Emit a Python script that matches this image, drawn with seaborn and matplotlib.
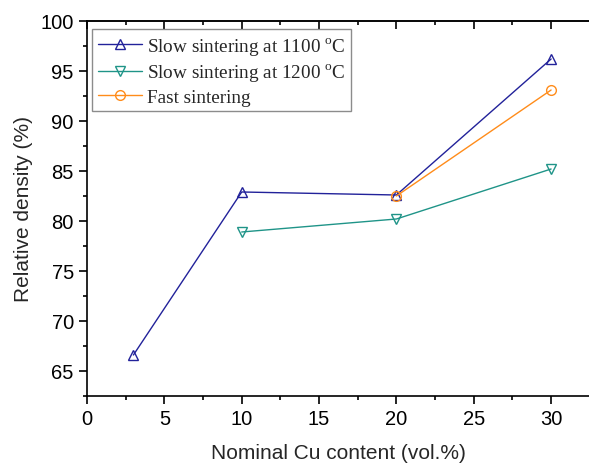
import matplotlib
matplotlib.use("Agg")
import matplotlib.pyplot as plt
from matplotlib.ticker import MultipleLocator
import seaborn as sns

# datos
cu_1100 = [3, 10, 20, 30]
dens_1100 = [66.6, 82.9, 82.6, 96.2]
cu_1200 = [10, 20, 30]
dens_1200 = [78.9, 80.2, 85.2]
cu_fast = [20, 30]
dens_fast = [82.5, 93.1]

labels = [r"Slow sintering at 1100 $^{\mathrm{o}}$C",
          r"Slow sintering at 1200 $^{\mathrm{o}}$C",
          "Fast sintering"]

sns.set_style("ticks")
plt.rcParams["font.family"] = ["Liberation Sans", "DejaVu Sans"]
plt.rcParams["mathtext.fontset"] = "custom"
plt.rcParams["mathtext.rm"] = "Liberation Serif"

fig = plt.figure(figsize=(5.89, 4.64), dpi=100)
ax = fig.add_axes([0.1477, 0.1444, 0.8523, 0.8082])

series = [
    (cu_1100, dens_1100, "#22229a", "^"),
    (cu_1200, dens_1200, "#1f9488", "v"),
    (cu_fast, dens_fast, "#ff8c1a", "o"),
]
for (x, y, c, m), lab in zip(series, labels):
    sns.lineplot(x=x, y=y, ax=ax, color=c, marker=m, markersize=7,
                 mfc="none", mec=c, mew=1.0, lw=1.0, label=lab)

ax.set_xlim(0, 32.45)
ax.set_ylim(62.5, 100)
ax.xaxis.set_major_locator(MultipleLocator(5))
ax.xaxis.set_minor_locator(MultipleLocator(2.5))
ax.set_yticks([65, 70, 75, 80, 85, 90, 95, 100])
ax.yaxis.set_minor_locator(MultipleLocator(2.5))

ax.spines["right"].set_visible(False)
for s in ["left", "bottom", "top"]:
    ax.spines[s].set_linewidth(1.2)
    ax.spines[s].set_color("black")

ax.tick_params(which="both", direction="out", width=1.2, colors="black", labelsize=14.5)
ax.tick_params(which="major", length=6)
ax.tick_params(which="minor", length=3)

# ticks del borde superior hacia dentro
top = ax.secondary_xaxis("top")
top.xaxis.set_major_locator(MultipleLocator(5))
top.xaxis.set_minor_locator(MultipleLocator(2.5))
top.tick_params(which="both", direction="in", labeltop=False, width=1.2, colors="black")
top.tick_params(which="major", length=6)
top.tick_params(which="minor", length=3)
top.spines["top"].set_linewidth(1.2)

ax.set_xlabel("Nominal Cu content (vol.%)", fontsize=15, labelpad=11)
ax.set_ylabel("Relative density (%)", fontsize=15, labelpad=5)

leg = ax.legend(loc="upper left", bbox_to_anchor=(0.01, 0.979), borderaxespad=0,
                prop={"family": "Liberation Serif", "size": 13.8},
                frameon=True, fancybox=False, edgecolor="#707070",
                handlelength=2.3, labelspacing=0.25, borderpad=0.3, handletextpad=0.25)
leg.get_frame().set_linewidth(1.0)

fig.savefig("out.png", dpi=100)
